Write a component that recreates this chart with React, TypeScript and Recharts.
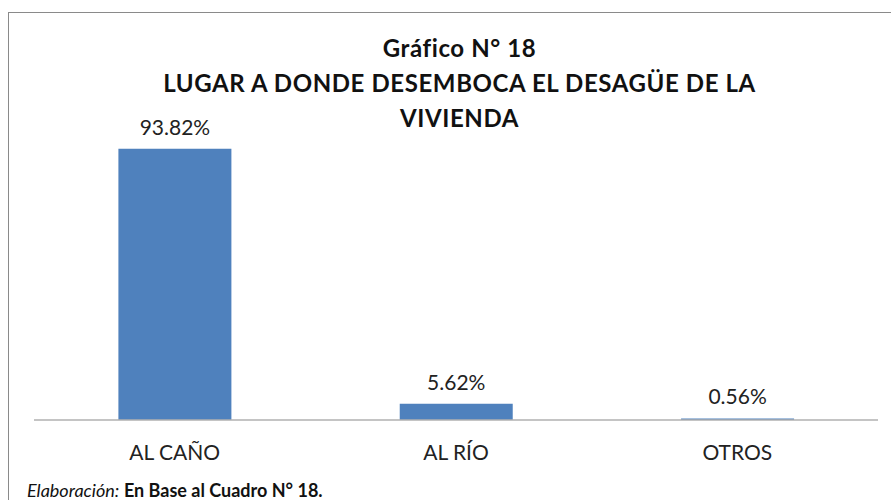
import { BarChart, Bar, XAxis, YAxis, LabelList } from "recharts";

const categories = ["AL CAÑO", "AL RÍO", "OTROS"];
const percentages = [93.82, 5.62, 0.56];

const rows = categories.map((name, i) => ({ name, value: percentages[i] }));

const font = "Lato, 'Open Sans', sans-serif";

export default function App() {
  return (
    <div style={{ position: "absolute", left: 0, top: 0, width: 891, height: 500, overflow: "hidden", background: "#fff", fontFamily: font }}>
      <div style={{ position: "absolute", left: 8, top: 12, width: 920, height: 520, borderLeft: "1.5px solid #8a8a8a", borderTop: "1.5px solid #8a8a8a" }} />
      <div style={{ position: "absolute", left: 0, top: 0 }}>
        <BarChart width={891} height={500} data={rows} margin={{ top: 131, right: 13, bottom: 40, left: 34 }} barCategoryGap="30%">
          <XAxis
            dataKey="name"
            height={40}
            tickLine={false}
            axisLine={{ stroke: "#b0b0b0", strokeWidth: 1.5 }}
            tick={{ fill: "#222", fontSize: 21, fontFamily: font }}
            tickMargin={19}
          />
          <YAxis hide domain={[0, 100]} />
          <Bar dataKey="value" fill="#4f81bd" isAnimationActive={false}>
            <LabelList
              dataKey="value"
              position="top"
              offset={14}
              formatter={(v: any) => `${Number(v).toFixed(2)}%`}
              style={{ fill: "#222", fontSize: 21, fontFamily: font }}
            />
          </Bar>
        </BarChart>
      </div>
      <div style={{ position: "absolute", left: 0, width: 891, top: 30, textAlign: "center", fontWeight: 700, fontSize: 24, letterSpacing: 0.6, lineHeight: "35px", color: "#111", paddingLeft: 28, boxSizing: "border-box" }}>
        <div>Gráfico N° 18</div>
        <div>LUGAR A DONDE DESEMBOCA EL DESAGÜE DE LA</div>
        <div>VIVIENDA</div>
      </div>
      <div style={{ position: "absolute", left: 27, top: 480, fontSize: 18, lineHeight: "20px", color: "#111" }}>
        <i>Elaboración:</i> <b>En Base al Cuadro N° 18.</b>
      </div>
    </div>
  );
}
